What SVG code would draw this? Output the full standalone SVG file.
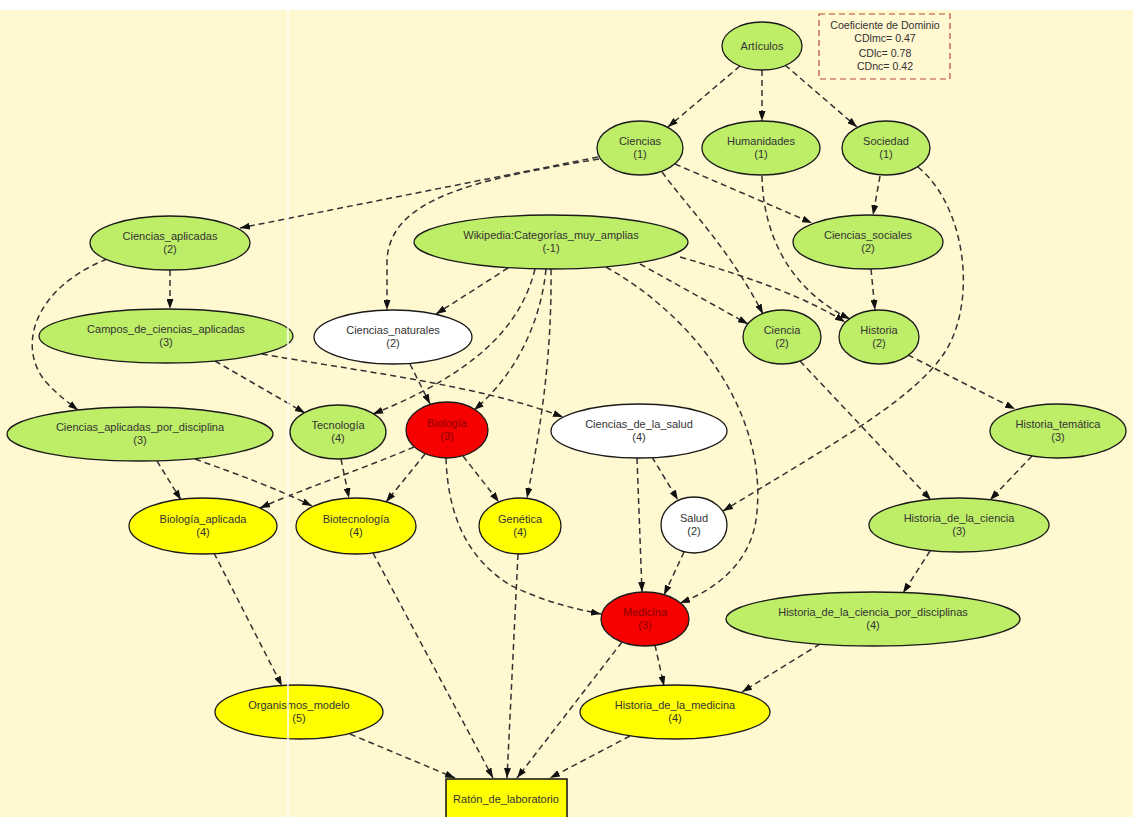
<svg xmlns="http://www.w3.org/2000/svg" width="1133" height="817" viewBox="0 0 1133 817">
<defs>
<style>
.bg{fill:#FFF8D0}
.n{stroke:#1a1a1a;stroke-width:1.3}
.g{fill:#BEEE68}
.y{fill:#FFFF00}
.r{fill:#F60000}
.w{fill:#FFFFFF}
text{font-family:"Liberation Sans",Arial,sans-serif;font-size:11px;fill:#333;text-anchor:middle}
.rt{fill:#8a0000}
.e path{fill:none;stroke:#333;stroke-width:1.5;stroke-dasharray:6,4;marker-end:url(#ah)}
</style>
<marker id="ah" viewBox="0 0 10 7" refX="10" refY="3.5" markerWidth="10" markerHeight="7" markerUnits="userSpaceOnUse" orient="auto">
<path d="M0,0 L10,3.5 L0,7 z" fill="#111"/>
</marker>
</defs>
<rect x="0" y="0" width="1133" height="817" fill="#FFFFFF"/>
<rect class="bg" x="0" y="10" width="1133" height="807"/>

<g id="legend">
<rect x="819" y="14" width="131" height="65" fill="none" stroke="#B84A3A" stroke-width="1.2" stroke-dasharray="6,4"/>
<text x="885" y="29" style="font-size:10.6px">Coeficiente de Dominio</text>
<text x="885" y="42" style="font-size:10.6px">CDlmc= 0.47</text>
<text x="885" y="57" style="font-size:10.6px">CDlc= 0.78</text>
<text x="885" y="70" style="font-size:10.6px">CDnc= 0.42</text>
</g>

<g id="connectors" class="e">
<path d="M740,66 L668,127"/>
<path d="M762,70 L762,121"/>
<path d="M785,65 L857,127"/>
<path d="M598,157 L240,228"/>
<path d="M599,159 C470,180 390,200 387,260 L387,310"/>
<path d="M675,164 L812,223"/>
<path d="M662,172 C690,210 730,250 763,314"/>
<path d="M762,176 C763,235 790,290 850,319"/>
<path d="M880,176 L873,215"/>
<path d="M918,167 C965,205 978,300 945,352 C915,398 840,440 723,511"/>
<path d="M871,269 L875,310"/>
<path d="M170,270 L170,309"/>
<path d="M107,259 C30,290 18,350 46,382 C56,393 66,401 78,410"/>
<path d="M215,361 L305,413"/>
<path d="M262,354 C350,370 480,385 563,417"/>
<path d="M508,268 L436,314"/>
<path d="M535,269 C520,330 470,375 373,414"/>
<path d="M546,269 C540,330 510,380 474,410"/>
<path d="M551,269 C552,360 540,430 527,498"/>
<path d="M606,267 C700,320 770,420 756,520 C750,560 720,588 680,603"/>
<path d="M640,264 L748,324"/>
<path d="M680,257 C760,280 810,300 845,322"/>
<path d="M410,364 L430,404"/>
<path d="M157,461 L181,500"/>
<path d="M195,459 C240,475 280,490 312,506"/>
<path d="M341,459 L349,498"/>
<path d="M425,454 L386,502"/>
<path d="M414,447 C360,470 300,490 260,508"/>
<path d="M463,456 L499,502"/>
<path d="M446,458 C448,520 470,560 510,585 C540,600 570,608 601,614"/>
<path d="M637,458 L642,592"/>
<path d="M652,457 L678,500"/>
<path d="M684,552 L664,595"/>
<path d="M800,361 L931,500"/>
<path d="M908,355 L1015,409"/>
<path d="M1032,456 L990,500"/>
<path d="M930,551 L903,593"/>
<path d="M820,644 L742,692"/>
<path d="M655,645 L664,686"/>
<path d="M622,642 L517,778"/>
<path d="M214,553 L282,686"/>
<path d="M373,553 L493,778"/>
<path d="M518,554 L507,778"/>
<path d="M350,734 L455,778"/>
<path d="M630,736 L550,778"/>
</g>

<g id="articulos"><ellipse class="n g" cx="762" cy="46" rx="40" ry="24"/><text x="762" y="50">Artículos</text></g>
<g id="ciencias"><ellipse class="n g" cx="640" cy="148" rx="43" ry="27"/><text x="640" y="145">Ciencias</text><text x="640" y="158">(1)</text></g>
<g id="humanidades"><ellipse class="n g" cx="761" cy="148" rx="59" ry="27"/><text x="761" y="145">Humanidades</text><text x="761" y="158">(1)</text></g>
<g id="sociedad"><ellipse class="n g" cx="886" cy="148" rx="44" ry="27"/><text x="886" y="145">Sociedad</text><text x="886" y="158">(1)</text></g>
<g id="ciencias_aplicadas"><ellipse class="n g" cx="170" cy="243" rx="80" ry="27"/><text x="170" y="240">Ciencias_aplicadas</text><text x="170" y="253">(2)</text></g>
<g id="wikipedia"><ellipse class="n g" cx="551" cy="242" rx="137" ry="27"/><text x="551" y="239">Wikipedia:Categorías_muy_amplias</text><text x="551" y="252">(-1)</text></g>
<g id="ciencias_sociales"><ellipse class="n g" cx="868" cy="242" rx="75" ry="27"/><text x="868" y="239">Ciencias_sociales</text><text x="868" y="252">(2)</text></g>
<g id="campos"><ellipse class="n g" cx="166" cy="336" rx="127" ry="27"/><text x="166" y="333">Campos_de_ciencias_aplicadas</text><text x="166" y="346">(3)</text></g>
<g id="ciencias_naturales"><ellipse class="n w" cx="393" cy="337" rx="79" ry="27"/><text x="393" y="334">Ciencias_naturales</text><text x="393" y="347">(2)</text></g>
<g id="ciencia"><ellipse class="n g" cx="782" cy="337" rx="39" ry="27"/><text x="782" y="334">Ciencia</text><text x="782" y="347">(2)</text></g>
<g id="historia"><ellipse class="n g" cx="879" cy="337" rx="40" ry="27"/><text x="879" y="334">Historia</text><text x="879" y="347">(2)</text></g>
<g id="capd"><ellipse class="n g" cx="140" cy="434" rx="133" ry="27"/><text x="140" y="431">Ciencias_aplicadas_por_disciplina</text><text x="140" y="444">(3)</text></g>
<g id="tecnologia"><ellipse class="n g" cx="338" cy="432" rx="48" ry="27"/><text x="338" y="429">Tecnología</text><text x="338" y="442">(4)</text></g>
<g id="biologia"><ellipse class="n r" cx="447" cy="430" rx="41" ry="28"/><text class="rt" x="447" y="427">Biología</text><text class="rt" x="447" y="440">(3)</text></g>
<g id="ciencias_salud"><ellipse class="n w" cx="639" cy="431" rx="88" ry="27"/><text x="639" y="428">Ciencias_de_la_salud</text><text x="639" y="441">(4)</text></g>
<g id="historia_tematica"><ellipse class="n g" cx="1058" cy="431" rx="68" ry="27"/><text x="1058" y="428">Historia_temática</text><text x="1058" y="441">(3)</text></g>
<g id="biologia_aplicada"><ellipse class="n y" cx="203" cy="526" rx="74" ry="28"/><text x="203" y="523">Biología_aplicada</text><text x="203" y="536">(4)</text></g>
<g id="biotecnologia"><ellipse class="n y" cx="356" cy="526" rx="60" ry="28"/><text x="356" y="523">Biotecnología</text><text x="356" y="536">(4)</text></g>
<g id="genetica"><ellipse class="n y" cx="520" cy="526" rx="41" ry="28"/><text x="520" y="523">Genética</text><text x="520" y="536">(4)</text></g>
<g id="salud"><ellipse class="n w" cx="694" cy="525" rx="33" ry="28"/><text x="694" y="522">Salud</text><text x="694" y="535">(2)</text></g>
<g id="historia_ciencia"><ellipse class="n g" cx="959" cy="525" rx="90" ry="27"/><text x="959" y="522">Historia_de_la_ciencia</text><text x="959" y="535">(3)</text></g>
<g id="medicina"><ellipse class="n r" cx="645" cy="619" rx="44" ry="27"/><text class="rt" x="645" y="616">Medicina</text><text class="rt" x="645" y="629">(3)</text></g>
<g id="hcpd"><ellipse class="n g" cx="873" cy="619" rx="147" ry="27"/><text x="873" y="616">Historia_de_la_ciencia_por_disciplinas</text><text x="873" y="629">(4)</text></g>
<g id="organismos"><ellipse class="n y" cx="299" cy="712" rx="84" ry="27"/><text x="299" y="709">Organismos_modelo</text><text x="299" y="722">(5)</text></g>
<g id="historia_medicina"><ellipse class="n y" cx="675" cy="712" rx="95" ry="27"/><text x="675" y="709">Historia_de_la_medicina</text><text x="675" y="722">(4)</text></g>
<g id="raton"><rect x="446" y="779" width="121" height="44" fill="#FFFF00" stroke="#111" stroke-width="1.5"/><text x="506" y="803">Ratón_de_laboratorio</text></g>

<rect x="287" y="10" width="2" height="807" fill="#FFFFFF" opacity="0.75"/>
</svg>
